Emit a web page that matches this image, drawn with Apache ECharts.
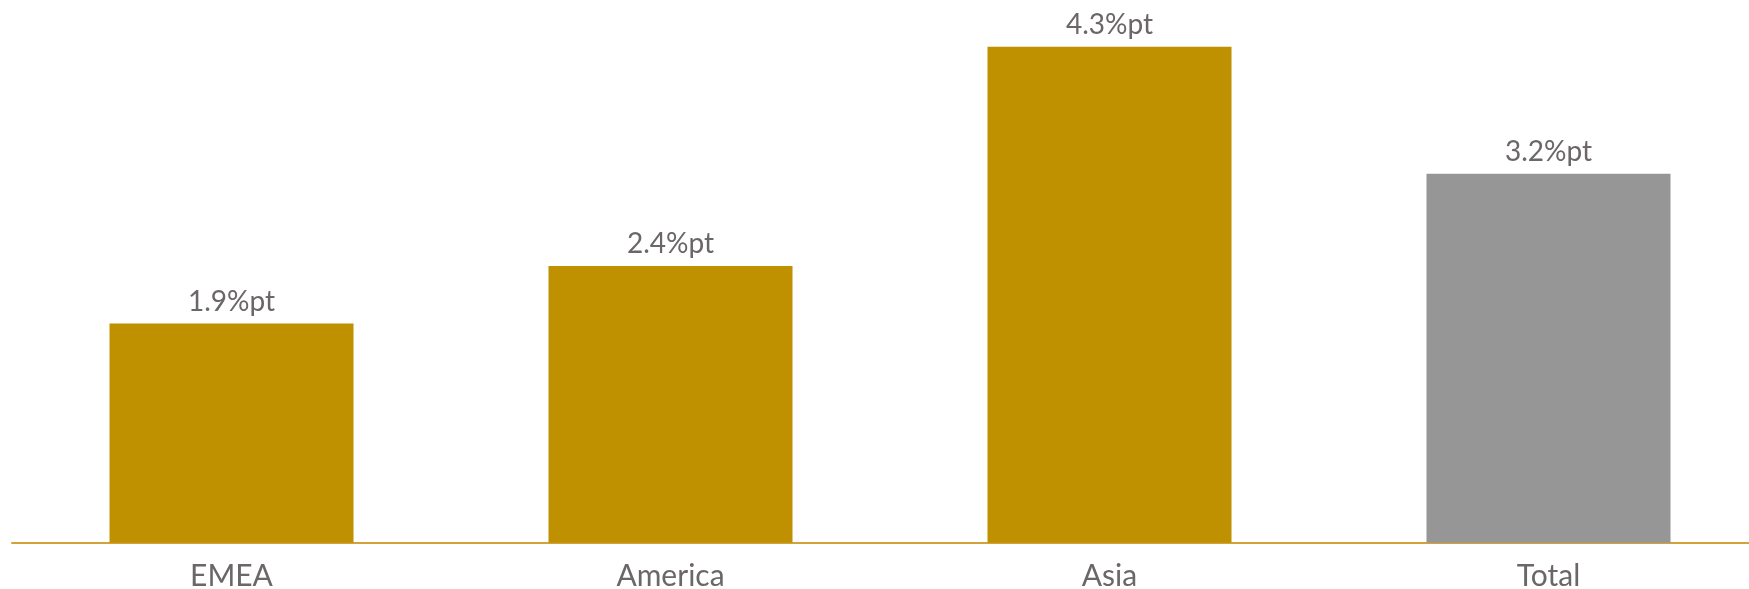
<!DOCTYPE html>
<html>
<head>
<meta charset="utf-8">
<script src="https://cdn.jsdelivr.net/npm/echarts@6/dist/echarts.min.js"></script>
<style>
  html, body { margin: 0; padding: 0; background: #fff; }
  #main { width: 1749px; height: 589px; }
</style>
</head>
<body>
<div id="main"></div>
<script>
var categories = ['EMEA', 'America', 'Asia', 'Total'];
var values = [1.9, 2.4, 4.3, 3.2];
var barColors = ['#bf9000', '#bf9000', '#bf9000', '#969696'];

var chart = echarts.init(document.getElementById('main'));

var barData = values.map(function (v, i) {
	return { value: v, itemStyle: { color: barColors[i] } };
});

var option = {
	backgroundColor: '#fff',
	animation: false,
	grid: {
		left: 12,
		top: 23.7,
		width: 1756,
		bottom: 46.3,
		outerBoundsMode: 'none'
	},
	xAxis: {
		type: 'category',
		data: categories,
		axisTick: { show: false },
		axisLine: {
			lineStyle: { color: '#d4a23c', width: 2 }
		},
		axisLabel: {
			color: '#6b6667',
			fontFamily: 'Lato',
			fontSize: 30,
			margin: 19
		}
	},
	yAxis: {
		type: 'value',
		min: 0,
		max: 4.5,
		show: false,
		splitLine: { show: false }
	},
	series: [{
		type: 'bar',
		data: barData,
		barWidth: 244,
		label: {
			show: true,
			position: 'top',
			distance: 8,
			color: '#6b6667',
			fontFamily: 'Lato',
			fontSize: 28,
			formatter: function (p) { return p.value + '%pt'; }
		}
	}]
};

chart.setOption(option);
</script>
</body>
</html>
